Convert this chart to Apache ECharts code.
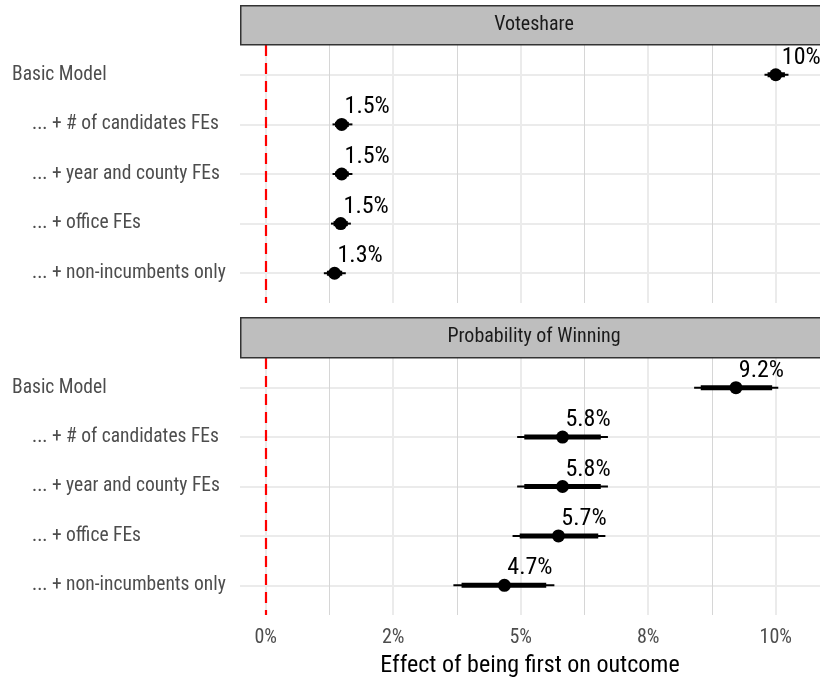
<!DOCTYPE html>
<html>
<head>
<meta charset="utf-8">
<script src="https://cdn.jsdelivr.net/npm/echarts@6/dist/echarts.min.js"></script>
<style>
html,body{margin:0;padding:0;background:#fff;}
#chart{width:820px;height:678px;}
</style>
</head>
<body>
<div id="chart"></div>
<script>
// ---- data ----
const rowNames = ["Basic Model", "... + # of candidates FEs", "... + year and county FEs", "... + office FEs", "... + non-incumbents only"];
const facetNames = ["Voteshare", "Probability of Winning"];

// Voteshare (in %)
const vsEst   = [10.0, 1.49, 1.49, 1.47, 1.35];
const vsLoOut = [9.78, 1.31, 1.31, 1.28, 1.14];
const vsHiOut = [10.25, 1.70, 1.70, 1.67, 1.57];
const vsLoIn  = [9.84, 1.36, 1.36, 1.33, 1.20];
const vsHiIn  = [10.18, 1.63, 1.63, 1.61, 1.50];
const vsLabels = ["10%", "1.5%", "1.5%", "1.5%", "1.3%"];

// Probability of winning (in %)
const pwEst   = [9.22, 5.82, 5.82, 5.74, 4.68];
const pwLoOut = [8.40, 4.93, 4.93, 4.84, 3.68];
const pwHiOut = [10.05, 6.71, 6.71, 6.66, 5.66];
const pwLoIn  = [8.53, 5.07, 5.07, 4.98, 3.84];
const pwHiIn  = [9.93, 6.57, 6.57, 6.52, 5.50];
const pwLabels = ["9.2%", "5.8%", "5.8%", "5.7%", "4.7%"];

const xMajor = [0, 2.5, 5, 7.5, 10];
const xMajorLabels = ["0%", "2%", "5%", "8%", "10%"];
const xMinor = [1.25, 3.75, 6.25, 8.75];
const xMin = -0.504, xMax = 10.868;
const labelNudge = 0.5; // label offset in %
const rowIdx = [0, 1, 2, 3, 4];

// ---- styling ----
const FONT = '"Liberation Sans Narrow", "Roboto Condensed", "Arial Narrow", "Liberation Sans", sans-serif';

function buildData(est, lo, hi, loi, hii, labels) {
  return est.map((v, i) => [v, lo[i], hi[i], loi[i], hii[i], i, labels[i]]);
}

function renderItem(params, api) {
  const row = api.value(5);
  const pEst = api.coord([api.value(0), row]);
  const pLo = api.coord([api.value(1), row]);
  const pHi = api.coord([api.value(2), row]);
  const pLoI = api.coord([api.value(3), row]);
  const pHiI = api.coord([api.value(4), row]);
  const pLab = api.coord([api.value(0) + labelNudge, row]);
  return {
    type: 'group',
    children: [
      {type: 'line', shape: {x1: pLo[0], y1: pLo[1], x2: pHi[0], y2: pHi[1]}, style: {stroke: '#000', lineWidth: 2}},
      {type: 'line', shape: {x1: pLoI[0], y1: pLoI[1], x2: pHiI[0], y2: pHiI[1]}, style: {stroke: '#000', lineWidth: 5}},
      {type: 'circle', shape: {cx: pEst[0], cy: pEst[1], r: 6.5}, style: {fill: '#000'}},
      {type: 'text', style: {text: api.value(6), x: pLab[0], y: pEst[1] - 17, align: 'center', verticalAlign: 'middle', fill: '#000', fontSize: 24, fontFamily: FONT}}
    ]
  };
}

const grids = [
  {left: 240, width: 580, top: 45, height: 258, outerBoundsMode: 'none', containLabel: false},
  {left: 240, width: 580, top: 358, height: 257, outerBoundsMode: 'none', containLabel: false}
];

const xAxes = [];
const yAxes = [];
[0, 1].forEach(g => {
  // major
  xAxes.push({
    type: 'value', gridIndex: g, min: xMin, max: xMax,
    axisLine: {show: false},
    axisTick: {show: false, customValues: xMajor},
    axisLabel: g === 1 ? {show: true, customValues: xMajor, formatter: v => xMajorLabels[xMajor.indexOf(v)], color: '#4d4d4d', fontSize: 20, fontFamily: FONT, margin: 13} : {show: false},
    splitLine: {show: true, lineStyle: {color: '#ebebeb', width: 2}},
    name: g === 1 ? 'Effect of being first on outcome' : '',
    nameLocation: 'middle', nameGap: 39,
    nameTextStyle: {color: '#000', fontSize: 24, fontFamily: FONT}
  });
  // minor
  xAxes.push({
    type: 'value', gridIndex: g, min: xMin, max: xMax,
    axisLine: {show: false},
    axisTick: {show: false, customValues: xMinor},
    axisLabel: {show: false, customValues: xMinor},
    splitLine: {show: true, lineStyle: {color: '#d6d6d6', width: 1}}
  });
  yAxes.push({
    type: 'value', gridIndex: g, min: -0.6, max: 4.6, inverse: true,
    axisLine: {show: false},
    axisTick: {show: false, customValues: rowIdx},
    axisLabel: {
      show: true, customValues: rowIdx, align: 'left', margin: 228,
      formatter: v => (v === 0 ? '{a|' : '{b|') + rowNames[v] + '}',
      rich: {
        a: {color: '#4d4d4d', fontSize: 19.5, fontFamily: FONT},
        b: {color: '#4d4d4d', fontSize: 19.5, fontFamily: FONT, padding: [0, 0, 0, 20]}
      }
    },
    splitLine: {show: true, lineStyle: {color: '#ebebeb', width: 2}}
  });
});

const redLine = {silent: true, symbol: 'none', label: {show: false},
  lineStyle: {color: '#ff0000', type: [11, 7], width: 2.2}, data: [{xAxis: 0}]};

const series = [
  {
    type: 'custom', xAxisIndex: 0, yAxisIndex: 0, renderItem: renderItem,
    data: buildData(vsEst, vsLoOut, vsHiOut, vsLoIn, vsHiIn, vsLabels),
    encode: {x: [0, 1, 2], y: 5}, clip: false, z: 5, markLine: redLine
  },
  {
    type: 'custom', xAxisIndex: 2, yAxisIndex: 1, renderItem: renderItem,
    data: buildData(pwEst, pwLoOut, pwHiOut, pwLoIn, pwHiIn, pwLabels),
    encode: {x: [0, 1, 2], y: 5}, clip: false, z: 5, markLine: redLine
  }
];

const graphic = [];
grids.forEach((gr, i) => {
  const top = i === 0 ? 5 : 317;
  const h = i === 0 ? 39 : 40;
  graphic.push({type: 'rect', left: 240, top: top, shape: {x: 0, y: 0, width: 600, height: h},
    style: {fill: '#bebebe', stroke: '#333333', lineWidth: 1.5}, z: 10});
  graphic.push({type: 'text', x: 534, y: top + h / 2,
    style: {text: facetNames[i], align: 'center', verticalAlign: 'middle', fill: '#1a1a1a', fontSize: 20, fontFamily: FONT}, z: 11});
});

const chart = echarts.init(document.getElementById('chart'), null, {renderer: 'canvas'});
chart.setOption({
  backgroundColor: '#ffffff',
  animation: false,
  grid: grids,
  xAxis: xAxes,
  yAxis: yAxes,
  series: series,
  graphic: graphic
});
</script>
</body>
</html>
